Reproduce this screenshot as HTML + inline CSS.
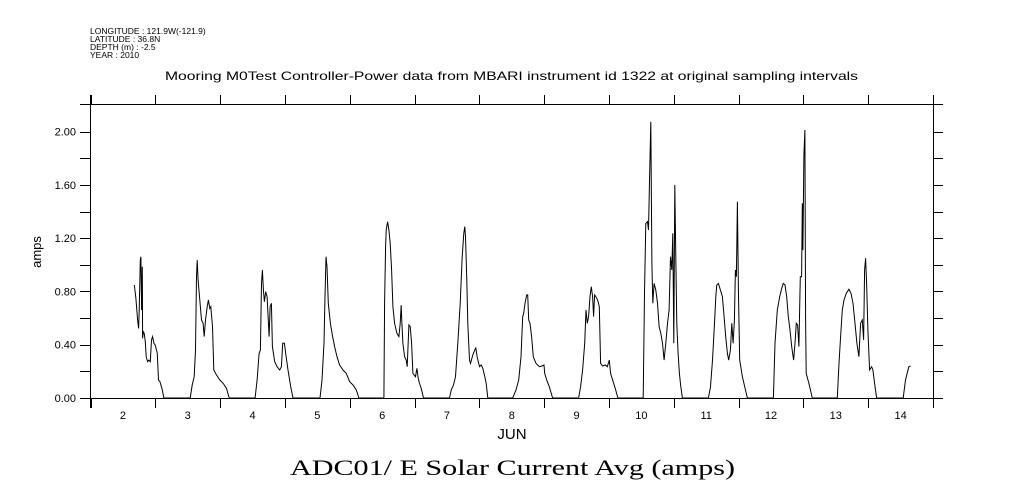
<!DOCTYPE html>
<html><head><meta charset="utf-8"><style>
body{margin:0;background:#fff;}
svg{display:block;font-family:"Liberation Sans",sans-serif;}
</style></head><body>
<svg id="chart" width="1009" height="504" viewBox="0 0 1009 504" xmlns="http://www.w3.org/2000/svg">
<rect width="1009" height="504" fill="#fff"/>
<g font-size="8.5" fill="#000">
<text x="90" y="34">LONGITUDE : 121.9W(-121.9)</text>
<text x="90" y="42">LATITUDE : 36.8N</text>
<text x="90" y="50">DEPTH (m) : -2.5</text>
<text x="90" y="58">YEAR : 2010</text>
</g>
<text x="165" y="80" font-size="12" textLength="693" lengthAdjust="spacingAndGlyphs">Mooring M0Test Controller-Power data from MBARI instrument id 1322 at original sampling intervals</text>
<g id="axes" stroke="#000" stroke-width="1" fill="none"></g>
<g id="labels" font-size="11" fill="#000"></g>
<path id="series" fill="none" stroke="#000" stroke-width="1"/>
<text x="0" y="0" font-size="13" text-anchor="middle" transform="translate(41,252) rotate(-90)">amps</text>
<text x="512" y="439" font-size="15" text-anchor="middle">JUN</text>
<text x="290" y="475" font-size="22" textLength="445" lengthAdjust="spacingAndGlyphs" font-family="Liberation Serif, serif">ADC01/ E Solar Current Avg (amps)</text>
</svg>
<script>
const dayTicks=[2,3,4,5,6,7,8,9,10,11,12,13,14];
const yTicks=[0,0.4,0.8,1.2,1.6,2.0];
const times=[2.676,2.701,2.727,2.742,2.752,2.768,2.778,2.788,2.799,2.804,2.814,2.829,2.845,2.860,2.881,2.901,2.922,2.942,2.958,2.978,2.999,3.030,3.050,3.071,3.102,3.132,
3.538,3.569,3.600,3.620,3.636,3.646,3.661,3.687,3.713,3.738,3.754,3.774,3.800,3.820,3.841,3.856,3.882,3.903,3.944,3.996,4.047,4.098,4.134,4.145,
4.540,4.571,4.602,4.622,4.638,4.653,4.668,4.684,4.704,4.725,4.756,4.771,4.792,4.807,4.843,4.879,4.920,4.946,4.966,4.992,5.012,5.048,5.089,5.125,
5.541,5.572,5.603,5.618,5.634,5.649,5.670,5.701,5.731,5.767,5.803,5.844,5.896,5.947,5.998,6.050,6.101,6.142,
6.527,6.538,6.553,6.563,6.584,6.604,6.625,6.646,6.666,6.692,6.728,6.759,6.779,6.794,6.805,6.820,6.846,6.872,6.887,6.913,6.933,6.954,6.974,7.015,7.036,7.056,7.077,7.103,7.139,
7.539,7.565,7.601,7.632,7.668,7.704,7.735,7.760,7.776,7.786,7.807,7.822,7.848,7.863,7.899,7.930,7.946,7.966,8.002,8.028,8.053,8.084,8.105,8.130,
8.515,8.566,8.607,8.643,8.669,8.684,8.705,8.730,8.746,8.761,8.782,8.807,8.833,8.874,8.926,8.967,8.998,9.008,9.039,9.080,9.131,
9.532,9.563,9.594,9.625,9.645,9.666,9.686,9.707,9.727,9.748,9.763,9.779,9.799,9.825,9.851,9.871,9.902,9.943,9.974,10.005,10.025,10.056,10.097,10.138,
10.528,10.549,10.569,10.595,10.610,10.626,10.646,10.662,10.677,10.697,10.723,10.749,10.774,10.800,10.826,10.851,10.877,10.903,10.928,10.949,10.969,10.985,11.000,11.016,11.031,11.046,11.067,11.087,11.108,11.133,
11.535,11.566,11.597,11.628,11.648,11.664,11.689,11.720,11.751,11.777,11.802,11.828,11.848,11.874,11.895,11.915,11.936,11.951,11.966,11.982,11.997,12.018,12.059,12.095,12.136,
12.537,12.562,12.598,12.634,12.665,12.690,12.716,12.742,12.767,12.793,12.819,12.849,12.870,12.890,12.911,12.931,12.952,12.972,12.983,12.993,13.008,13.024,13.034,13.044,13.085,13.137,
13.523,13.549,13.574,13.600,13.626,13.662,13.703,13.734,13.765,13.796,13.826,13.857,13.883,13.909,13.929,13.945,13.960,13.976,13.996,14.022,14.053,14.073,14.099,14.130,
14.540,14.576,14.627,14.653];
const amps=[0.849,0.749,0.586,0.523,0.661,1.036,1.061,0.661,0.986,0.448,0.498,0.486,0.423,0.310,0.273,0.285,0.273,0.436,0.461,0.411,0.398,0.335,0.135,0.123,0.073,0,
0,0.098,0.160,0.360,0.911,1.036,0.886,0.736,0.586,0.561,0.461,0.586,0.686,0.736,0.673,0.686,0.536,0.210,0.173,0.135,0.110,0.073,0.010,0,
0,0.135,0.335,0.360,0.861,0.961,0.811,0.723,0.799,0.761,0.461,0.686,0.711,0.386,0.273,0.235,0.210,0.235,0.411,0.411,0.335,0.210,0.085,0,
0,0.135,0.411,0.761,1.061,0.986,0.711,0.561,0.473,0.386,0.310,0.248,0.210,0.185,0.123,0.098,0.060,0,
0,0.723,1.137,1.262,1.324,1.262,1.162,0.961,0.686,0.561,0.486,0.461,0.561,0.698,0.561,0.411,0.310,0.285,0.235,0.548,0.536,0.411,0.185,0.160,0.223,0.148,0.110,0.073,0,
0,0.060,0.098,0.160,0.411,0.711,1.061,1.237,1.287,1.212,0.886,0.561,0.285,0.260,0.323,0.360,0.380,0.310,0.235,0.248,0.223,0.160,0.110,0,
0,0.060,0.135,0.310,0.611,0.636,0.711,0.774,0.774,0.586,0.561,0.461,0.310,0.260,0.235,0.240,0.248,0.185,0.135,0.085,0,
0,0.085,0.210,0.411,0.661,0.561,0.611,0.761,0.836,0.761,0.611,0.774,0.761,0.736,0.686,0.260,0.240,0.248,0.235,0.285,0.185,0.135,0.073,0,
0,0.786,1.312,1.324,1.262,1.625,2.075,1.011,0.711,0.861,0.811,0.711,0.536,0.486,0.411,0.285,0.411,0.561,0.661,1.061,0.961,1.237,0.411,1.600,1.061,0.561,0.335,0.185,0.085,0,
0,0.085,0.285,0.561,0.761,0.849,0.861,0.811,0.761,0.611,0.461,0.335,0.285,0.360,0.561,0.411,0.586,0.961,0.911,1.475,0.811,0.285,0.160,0.085,0,
0,0.411,0.661,0.761,0.824,0.861,0.849,0.761,0.611,0.511,0.386,0.285,0.411,0.561,0.548,0.386,0.911,0.911,1.462,1.111,1.825,2.013,0.586,0.185,0.110,0,
0,0.260,0.461,0.661,0.736,0.786,0.816,0.786,0.711,0.561,0.411,0.310,0.561,0.586,0.436,0.961,1.049,0.861,0.511,0.210,0.235,0.210,0.110,0,
0,0.135,0.235,0.240];
const X0=90.5,X1=933,Y0=398,Y1=131.7,T0=2,T1=15;
const xs=t=>X0+(t-T0)/(T1-T0)*(X1-X0);
const ys=v=>Y0+(v/2)*(Y1-Y0);
const NS="http://www.w3.org/2000/svg";
const axes=document.getElementById('axes'),labels=document.getElementById('labels');
function ln(x1,y1,x2,y2,name){const l=document.createElementNS(NS,'line');
l.setAttribute('x1',x1);l.setAttribute('y1',y1);l.setAttribute('x2',x2);l.setAttribute('y2',y2);


axes.appendChild(l);}
ln(80,104.5,943,104.5,'top-frame');ln(80,398.5,943,398.5,'x-axis-line');
ln(90.5,95,90.5,408,'y-axis-line');ln(933.5,95,933.5,408,'right-frame');
for(let d=T0;d<=T1;d++){const x=Math.round(xs(d))+0.5;ln(x,95,x,104,'top-tick');ln(x,398,x,408,'x-tick');}
for(let v=0.2;v<2.1;v+=0.2){const y=Math.round(ys(v))+0.5;ln(80,y,90,y,'y-tick');ln(933,y,943,y,'right-y-tick');}
dayTicks.forEach(d=>{const t=document.createElementNS(NS,'text');
t.setAttribute('x',xs(d+0.5));t.setAttribute('y',419);t.setAttribute('text-anchor','middle');t.textContent=d;


labels.appendChild(t);});
yTicks.forEach(v=>{const t=document.createElementNS(NS,'text');
t.setAttribute('x',76);t.setAttribute('y',ys(v)+4);t.setAttribute('text-anchor','end');t.textContent=v.toFixed(2);


labels.appendChild(t);});
let d='';times.forEach((t,i)=>{d+=(i?'L':'M')+xs(t).toFixed(1)+','+ys(amps[i]).toFixed(1);});
document.getElementById('series').setAttribute('d',d);
</script>
</body></html>
